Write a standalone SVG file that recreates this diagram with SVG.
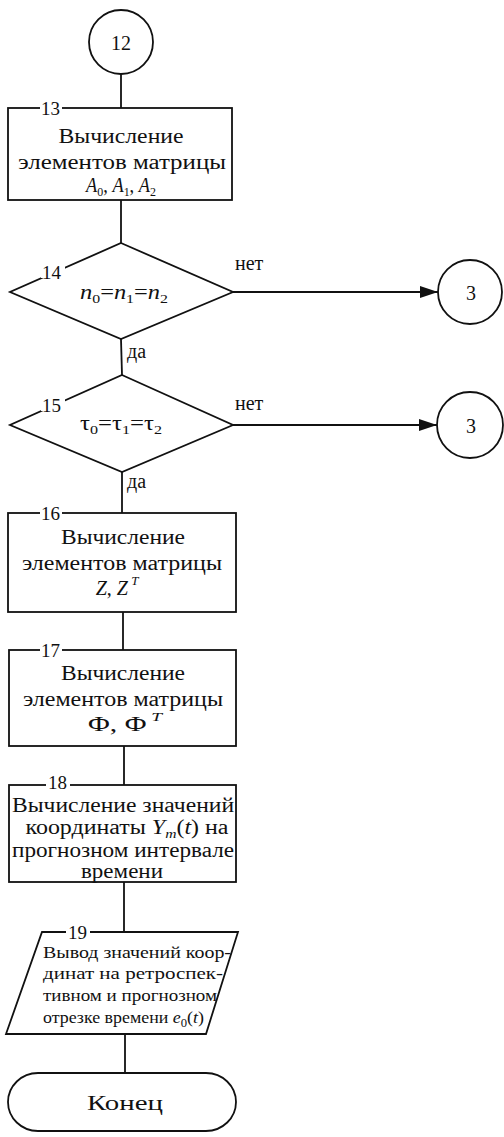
<svg xmlns="http://www.w3.org/2000/svg" width="504" height="1137" viewBox="0 0 504 1137">
  <defs>
    <style>
      .shape { fill: #fff; stroke: #111; stroke-width: 1.8; }
      .wire { fill: none; stroke: #111; stroke-width: 1.8; }
      .t { font-family: "Liberation Serif", "Times New Roman", serif; font-size: 20px; fill: #111; }
      .c { text-anchor: middle; }
      .num { font-family: "Liberation Serif", "Times New Roman", serif; font-size: 19px; fill: #111; }
      .small { font-family: "Liberation Serif", "Times New Roman", serif; font-size: 17px; fill: #111; }
      .lbl { font-family: "Liberation Serif", "Times New Roman", serif; font-size: 20px; fill: #111; }
      .i { font-style: italic; }
      .gap { fill: #fff; }
    </style>
    <marker id="arrow" markerUnits="userSpaceOnUse" markerWidth="20" markerHeight="12" refX="18" refY="6" orient="auto">
      <path d="M0,0 L18,6 L0,12 Z" fill="#111"/>
    </marker>
  </defs>

  <!-- connectors -->
  <g id="connectors">
    <line class="wire" x1="121" y1="74" x2="121" y2="108"/>
    <line class="wire" x1="121" y1="200" x2="121" y2="243"/>
    <line class="wire" x1="121" y1="339" x2="122" y2="375"/>
    <line class="wire" x1="233" y1="292" x2="438" y2="292" marker-end="url(#arrow)"/>
    <line class="wire" x1="233" y1="425" x2="437" y2="425" marker-end="url(#arrow)"/>
    <line class="wire" x1="122" y1="472" x2="122" y2="513"/>
    <line class="wire" x1="123" y1="612" x2="123" y2="650"/>
    <line class="wire" x1="124" y1="746" x2="124" y2="785"/>
    <line class="wire" x1="124" y1="882" x2="124" y2="932"/>
    <line class="wire" x1="125" y1="1034" x2="125" y2="1073"/>
    <text class="lbl" x="235" y="270">нет</text>
    <text class="lbl" x="235" y="410">нет</text>
    <text class="lbl" x="127" y="358">да</text>
    <text class="lbl" x="127" y="488">да</text>
  </g>

  <!-- connector 12 -->
  <g id="node-12">
    <circle class="shape" cx="121" cy="42" r="32"/>
    <text class="t c" x="121" y="50" font-size="23">12</text>
  </g>

  <!-- block 13 -->
  <g id="node-13">
    <rect class="shape" x="8" y="108" width="224" height="92"/>
    <rect class="gap" x="40" y="104" width="22" height="8"/>
    <text class="num" x="41" y="115">13</text>
    <text class="t c" x="121" y="143" textLength="125" lengthAdjust="spacingAndGlyphs">Вычисление</text>
    <text class="t c" x="122" y="169" textLength="208" lengthAdjust="spacingAndGlyphs">элементов матрицы</text>
    <text class="t c" x="121" y="192" font-size="19" textLength="70" lengthAdjust="spacingAndGlyphs"><tspan class="i">A</tspan><tspan font-size="13" dy="4">0</tspan><tspan dy="-4">, </tspan><tspan class="i">A</tspan><tspan font-size="13" dy="4">1</tspan><tspan dy="-4">, </tspan><tspan class="i">A</tspan><tspan font-size="13" dy="4">2</tspan></text>
  </g>

  <!-- decision 14 -->
  <g id="node-14">
    <polygon class="shape" points="121,243 233,292 121,339 10,292"/>
    <rect class="gap" x="41" y="264" width="24" height="14"/>
    <text class="num" x="42" y="279">14</text>
    <text class="t c" x="124" y="299" textLength="88" lengthAdjust="spacingAndGlyphs"><tspan class="i">n</tspan><tspan font-size="13" dy="4">0</tspan><tspan dy="-4">=</tspan><tspan class="i">n</tspan><tspan font-size="13" dy="4">1</tspan><tspan dy="-4">=</tspan><tspan class="i">n</tspan><tspan font-size="13" dy="4">2</tspan></text>
  </g>

  <!-- off-page connector 3 (from 14) -->
  <g id="node-3a">
    <circle class="shape" cx="470" cy="292" r="32"/>
    <text class="t c" x="471" y="300" font-size="23">3</text>
  </g>

  <!-- decision 15 -->
  <g id="node-15">
    <polygon class="shape" points="122,375 233,425 122,472 10,425"/>
    <rect class="gap" x="41" y="397" width="24" height="14"/>
    <text class="num" x="42" y="412">15</text>
    <text class="t c" x="121" y="430" textLength="82" lengthAdjust="spacingAndGlyphs"><tspan>τ</tspan><tspan font-size="13" dy="4">0</tspan><tspan dy="-4">=τ</tspan><tspan font-size="13" dy="4">1</tspan><tspan dy="-4">=τ</tspan><tspan font-size="13" dy="4">2</tspan></text>
  </g>

  <!-- off-page connector 3 (from 15) -->
  <g id="node-3b">
    <circle class="shape" cx="470" cy="425" r="33"/>
    <text class="t c" x="471" y="433" font-size="23">3</text>
  </g>

  <!-- block 16 -->
  <g id="node-16">
    <rect class="shape" x="8" y="513" width="228" height="99"/>
    <rect class="gap" x="40" y="509" width="22" height="8"/>
    <text class="num" x="41" y="520">16</text>
    <text class="t c" x="123" y="544" textLength="124" lengthAdjust="spacingAndGlyphs">Вычисление</text>
    <text class="t c" x="122" y="570" textLength="200" lengthAdjust="spacingAndGlyphs">элементов матрицы</text>
    <text class="t c" x="117" y="595" font-size="22"><tspan class="i">Z</tspan><tspan>, </tspan><tspan class="i">Z</tspan><tspan class="i" font-size="13" dy="-10"> T</tspan></text>
  </g>

  <!-- block 17 -->
  <g id="node-17">
    <rect class="shape" x="9" y="650" width="227" height="96"/>
    <rect class="gap" x="40" y="646" width="22" height="8"/>
    <text class="num" x="41" y="657">17</text>
    <text class="t c" x="123" y="680" textLength="124" lengthAdjust="spacingAndGlyphs">Вычисление</text>
    <text class="t c" x="123" y="706" textLength="200" lengthAdjust="spacingAndGlyphs">элементов матрицы</text>
    <text class="t c" x="125" y="731" font-size="22" textLength="74" lengthAdjust="spacingAndGlyphs"><tspan>Φ, Φ</tspan><tspan class="i" font-size="13" dy="-10"> T</tspan></text>
  </g>

  <!-- block 18 -->
  <g id="node-18">
    <rect class="shape" x="9" y="785" width="227" height="97"/>
    <rect class="gap" x="46" y="781" width="24" height="8"/>
    <text class="num" x="48" y="789" font-size="18">18</text>
    <text class="t c" x="123" y="812" textLength="222" lengthAdjust="spacingAndGlyphs">Вычисление значений</text>
    <text class="t c" x="127" y="834" textLength="203" lengthAdjust="spacingAndGlyphs">координаты <tspan class="i">Y</tspan><tspan class="i" font-size="13" dy="4">m</tspan><tspan dy="-4">(</tspan><tspan class="i">t</tspan>) на</text>
    <text class="t c" x="123" y="857" textLength="222" lengthAdjust="spacingAndGlyphs">прогнозном интервале</text>
    <text class="t c" x="122" y="878" textLength="82" lengthAdjust="spacingAndGlyphs">времени</text>
  </g>

  <!-- output 19 -->
  <g id="node-19">
    <polygon class="shape" points="42,932 238,932 206,1034 6,1034"/>
    <rect class="gap" x="66" y="928" width="24" height="8"/>
    <text class="num" x="68" y="939">19</text>
    <text class="small" x="43" y="958" textLength="188" lengthAdjust="spacingAndGlyphs">Вывод значений коор-</text>
    <text class="small" x="43" y="979" textLength="180" lengthAdjust="spacingAndGlyphs">динат  на ретроспек-</text>
    <text class="small" x="43" y="1001" textLength="174" lengthAdjust="spacingAndGlyphs">тивном и прогнозном</text>
    <text class="small" x="43" y="1023" textLength="161" lengthAdjust="spacingAndGlyphs">отрезке времени <tspan class="i">e</tspan><tspan font-size="12" dy="4">0</tspan><tspan dy="-4">(</tspan><tspan class="i">t</tspan>)</text>
  </g>

  <!-- terminator -->
  <g id="node-end">
    <rect class="shape" x="8" y="1073" width="228" height="58" rx="30" ry="29"/>
    <text class="t c" x="125" y="1110" textLength="76" lengthAdjust="spacingAndGlyphs">Конец</text>
  </g>
</svg>
